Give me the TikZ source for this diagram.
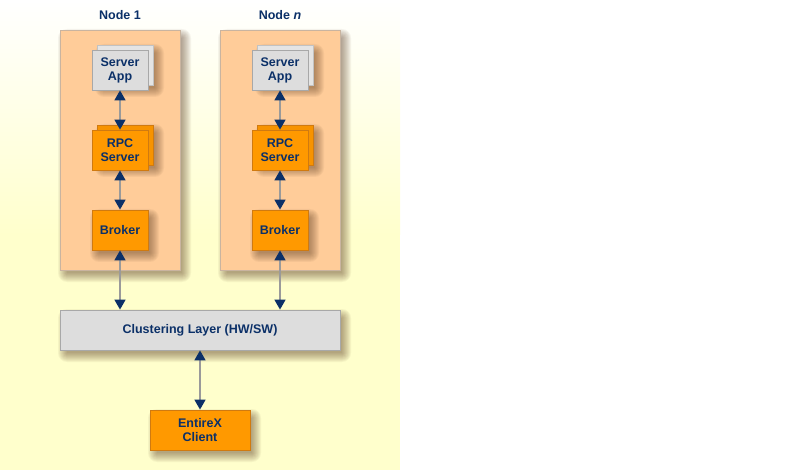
\documentclass[tikz,border=0pt]{standalone}
\usepackage{fontspec}
\setmainfont{Liberation Sans}
\usetikzlibrary{arrows.meta}
\definecolor{txt}{HTML}{0B3068}
\definecolor{peach}{HTML}{FFCC99}
\definecolor{peachline}{HTML}{C9B4A0}
\definecolor{orng}{HTML}{FF9900}
\definecolor{orngline}{HTML}{D07A10}
\definecolor{orngback}{HTML}{F79300}
\definecolor{gry}{HTML}{DDDDDD}
\definecolor{gryline}{HTML}{A8A8A8}
\definecolor{gryback}{HTML}{E4E4E4}
\definecolor{arrline}{HTML}{9A9A9A}
\definecolor{tipcol}{HTML}{0B3068}
\definecolor{bgyel}{HTML}{FFFFCC}
\definecolor{shadowcol}{HTML}{5A3A20}
\newcommand\softshade[4]{%
  \foreach \e in {0,...,9}{%
    \fill[shadowcol,opacity=0.055,rounded corners=\e pt] ({#1+7-\e},{#2+8-\e}) rectangle ({#3+2+\e},{#4+3+\e});}}
\tikzset{
  container/.style={draw=peachline,fill=peach,line width=0.8pt,minimum width=120pt,minimum height=240pt,inner sep=0pt},
  boxtext/.style={text=txt,font=\fontsize{12.5}{14}\selectfont\bfseries,align=center,inner sep=0pt},
  greybox/.style={boxtext,draw=gryline,fill=gry,line width=0.8pt,minimum width=56pt,minimum height=40pt},
  greyback/.style={draw=gryline!70,fill=gryback,line width=0.8pt,minimum width=56pt,minimum height=40pt,inner sep=0pt},
  orangebox/.style={boxtext,draw=orngline,fill=orng,line width=0.8pt,minimum width=56pt,minimum height=40pt},
  orangeback/.style={draw=orngline,fill=orngback,line width=0.8pt,minimum width=56pt,minimum height=40pt,inner sep=0pt},
  conn/.style={draw=arrline,line width=1.6pt,
    {Triangle[width=11pt,length=10pt,color=tipcol]}-{Triangle[width=11pt,length=10pt,color=tipcol]}},
  title/.style={text=txt,font=\fontsize{12.5}{14}\selectfont\bfseries,inner sep=0pt}
}
\begin{document}
\begin{tikzpicture}[x=1pt,y=-1pt]
\useasboundingbox (0,0) rectangle (800,470);
\fill[white] (0,0) rectangle (800,470);
\shade[top color=white,bottom color=bgyel] (0,0) rectangle (400,235);
\fill[bgyel] (0,235) rectangle (400,470);

% container shadows
\softshade{60}{30}{180}{270}
\softshade{220}{30}{340}{270}
\softshade{60}{310}{340}{350}
\softshade{150}{410}{250}{450}

% containers
\node[container] (c1) at (120,150) {};
\node[container] (cn) at (280,150) {};
\node[title] (t1) at (120,15) {Node 1};
\node[title] (tn) at (280,15) {Node \textit{n}};

% inner shadows
\softshade{97}{45}{153}{85}
\softshade{97}{125}{153}{165}
\softshade{92}{210}{148}{250}
\softshade{257}{45}{313}{85}
\softshade{257}{125}{313}{165}
\softshade{252}{210}{308}{250}

% node 1
\node[greyback] (sa1b) at (125,65) {};
\node[greybox] (sa1) at (120,70) {Server\\App};
\node[orangeback] (rpc1b) at (125,145) {};
\node[orangebox] (rpc1) at (120,150) {RPC\\Server};
\node[orangebox] (br1) at (120,230) {Broker};

% node n
\node[greyback] (sanb) at (285,65) {};
\node[greybox] (san) at (280,70) {Server\\App};
\node[orangeback] (rpcnb) at (285,145) {};
\node[orangebox] (rpcn) at (280,150) {RPC\\Server};
\node[orangebox] (brn) at (280,230) {Broker};

% clustering and client
\node[boxtext,draw=gryline,fill=gry,line width=0.8pt,minimum width=280pt,minimum height=40pt] (cl) at (200,330) {Clustering Layer (HW/SW)};
\node[orangebox,minimum width=100pt] (cli) at (200,430) {EntireX\\Client};

% connectors
\draw[conn] (sa1.south) -- (rpc1.north);
\draw[conn] (rpc1.south) -- (br1.north);
\draw[conn] (br1.south) -- (br1.south |- cl.north);
\draw[conn] (san.south) -- (rpcn.north);
\draw[conn] (rpcn.south) -- (brn.north);
\draw[conn] (brn.south) -- (brn.south |- cl.north);
\draw[conn] (cl.south) -- (cli.north);
\end{tikzpicture}
\end{document}
